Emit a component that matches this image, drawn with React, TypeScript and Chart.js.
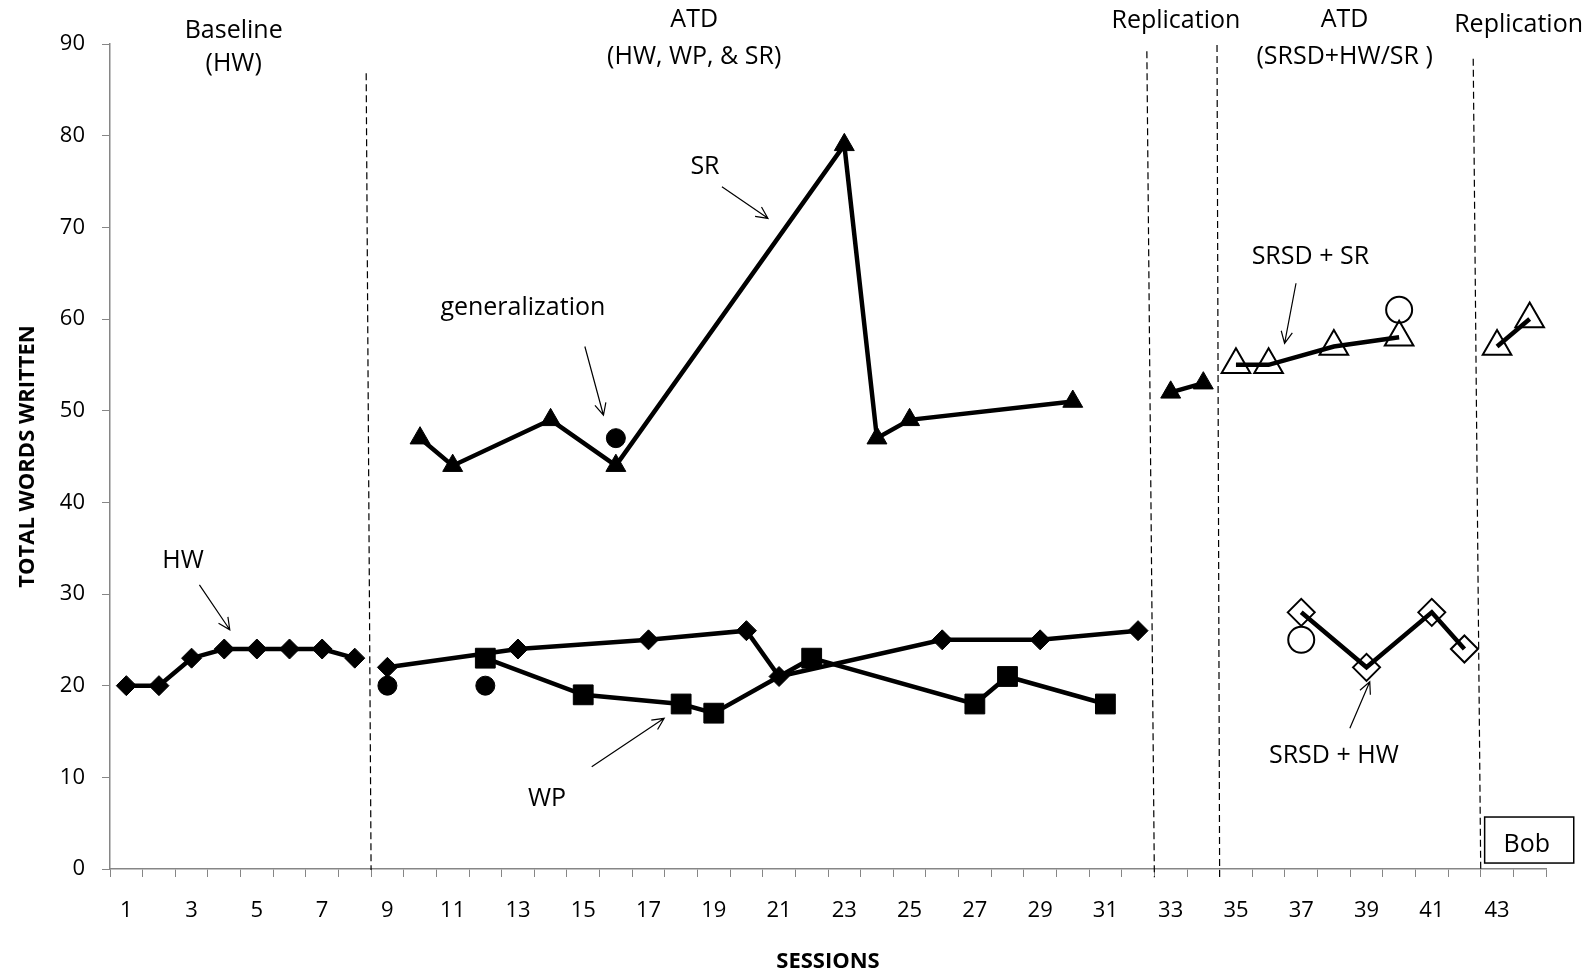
import React, { useEffect, useRef } from "react";
import { Chart, registerables } from "chart.js";

Chart.register(...registerables);

// ---------- data ----------
const sessionLabels = [
  "1", "2", "3", "4", "5", "6", "7", "8", "9", "10", "11", "12", "13", "14", "15",
  "16", "17", "18", "19", "20", "21", "22", "23", "24", "25", "26", "27", "28", "29", "30",
  "31", "32", "33", "34", "35", "36", "37", "38", "39", "40", "41", "42", "43", "44",
];
const yTicks = [0, 10, 20, 30, 40, 50, 60, 70, 80, 90];

// [session, total words written]
const hwBaseline = [[1, 20], [2, 20], [3, 23], [4, 24], [5, 24], [6, 24], [7, 24], [8, 23]];
const hwAtd = [[9, 22], [13, 24], [17, 25], [20, 26], [21, 21], [26, 25], [29, 25], [32, 26]];
const wpAtd = [[12, 23], [15, 19], [18, 18], [19, 17], [22, 23], [27, 18], [28, 21], [31, 18]];
const srAtd = [[10, 47], [11, 44], [14, 49], [16, 44], [23, 79], [24, 47], [25, 49], [30, 51]];
const srReplication = [[33, 52], [34, 53]];
const srsdSr = [[35, 55], [36, 55], [38, 57], [40, 58]];
const srsdHw = [[37, 28], [39, 22], [41, 28], [42, 24]];
const srsdReplication = [[43, 57], [44, 60]];
const generalizationFilled = [[9, 20], [12, 20], [16, 47]];
const generalizationOpen = [[37, 25], [40, 61]];

// annotations, in (session, value) units
const phaseTexts = [
  { text: "Baseline", s: 4.29, v: 91.4 },
  { text: "(HW)", s: 4.29, v: 87.8 },
  { text: "ATD", s: 18.4, v: 92.6 },
  { text: "(HW, WP, & SR)", s: 18.4, v: 88.6 },
  { text: "Replication", s: 33.16, v: 92.5 },
  { text: "ATD", s: 38.33, v: 92.6 },
  { text: "(SRSD+HW/SR )", s: 38.33, v: 88.6 },
  { text: "Replication", s: 43.66, v: 92.1 },
  { text: "HW", s: 2.74, v: 33.6 },
  { text: "SR", s: 18.73, v: 76.6 },
  { text: "generalization", s: 13.15, v: 61.2 },
  { text: "WP", s: 13.89, v: 7.6 },
  { text: "SRSD + SR", s: 37.28, v: 66.8 },
  { text: "SRSD + HW", s: 38.0, v: 12.36 },
  { text: "Bob", s: 43.91, v: 2.6 },
];
const arrows = [
  { from: [3.24, 31.0], to: [4.17, 26.1] },
  { from: [19.25, 74.43], to: [20.66, 70.98] },
  { from: [15.05, 57.0], to: [15.62, 49.5] },
  { from: [15.26, 11.16], to: [17.48, 16.44] },
  { from: [36.84, 63.9], to: [36.49, 57.35] },
  { from: [38.49, 15.35], to: [39.1, 20.43] },
];
const phaseLines = [
  { top: [8.35, 86.8], bottom: [8.5, -0.1] },
  { top: [32.27, 89.2], bottom: [32.5, -0.9] },
  { top: [34.42, 89.9], bottom: [34.5, -1.0] },
  { top: [42.27, 88.4], bottom: [42.5, -0.2] },
];
const bobBox = { s1: 42.62, s2: 45.35, v1: 0.65, v2: 5.67 };

const FONT = "'Open Sans', sans-serif";

function toSeries(pairs: number[][]) {
  const arr: (number | null)[] = sessionLabels.map(() => null);
  pairs.forEach(([s, v]) => {
    arr[s - 1] = v;
  });
  return arr;
}

const annotationPlugin = {
  id: "annotations",
  afterDatasetsDraw(chart: any) {
    const { ctx, scales } = chart;
    const x = scales.x;
    const y = scales.y;
    const px = (s: number) => x.getPixelForValue(s - 1);
    const py = (v: number) => y.getPixelForValue(v);
    ctx.save();

    // phase change lines
    ctx.strokeStyle = "#000";
    ctx.lineWidth = 1.2;
    ctx.setLineDash([7, 4]);
    phaseLines.forEach((l) => {
      ctx.beginPath();
      ctx.moveTo(px(l.top[0]), py(l.top[1]));
      ctx.lineTo(px(l.bottom[0]), py(l.bottom[1]));
      ctx.stroke();
    });
    ctx.setLineDash([]);

    // arrows
    ctx.lineWidth = 1.2;
    arrows.forEach((a) => {
      const x1 = px(a.from[0]);
      const y1 = py(a.from[1]);
      const x2 = px(a.to[0]);
      const y2 = py(a.to[1]);
      const ang = Math.atan2(y2 - y1, x2 - x1);
      const head = 13;
      const spread = 0.45;
      ctx.beginPath();
      ctx.moveTo(x1, y1);
      ctx.lineTo(x2, y2);
      ctx.moveTo(x2 - head * Math.cos(ang - spread), y2 - head * Math.sin(ang - spread));
      ctx.lineTo(x2, y2);
      ctx.lineTo(x2 - head * Math.cos(ang + spread), y2 - head * Math.sin(ang + spread));
      ctx.stroke();
    });

    // Bob box
    ctx.lineWidth = 1.5;
    ctx.fillStyle = "#fff";
    const bx = px(bobBox.s1);
    const by = py(bobBox.v2);
    const bw = px(bobBox.s2) - bx;
    const bh = py(bobBox.v1) - by;
    ctx.fillRect(bx, by, bw, bh);
    ctx.strokeRect(bx, by, bw, bh);

    // texts
    ctx.fillStyle = "#000";
    ctx.font = `25px ${FONT}`;
    ctx.textAlign = "center";
    ctx.textBaseline = "middle";
    phaseTexts.forEach((t) => {
      ctx.fillText(t.text, px(t.s), py(t.v));
    });
    ctx.restore();
  },
};

const filledLine = (data: (number | null)[], pointStyle: string, radius: number) => ({
  data,
  borderColor: "#000",
  borderWidth: 4.5,
  pointStyle,
  pointRadius: radius,
  pointHoverRadius: radius,
  pointBackgroundColor: "#000",
  pointBorderColor: "#000",
  pointBorderWidth: 1,
  spanGaps: true,
  showLine: true,
});

const openLine = (data: (number | null)[], pointStyle: string, radius: number) => ({
  data,
  borderColor: "#000",
  borderWidth: 4.5,
  pointStyle,
  pointRadius: radius,
  pointHoverRadius: radius,
  pointBackgroundColor: "rgba(0,0,0,0)",
  pointBorderColor: "#000",
  pointBorderWidth: 2,
  spanGaps: true,
  showLine: true,
});

export default function App() {
  const canvasRef = useRef<HTMLCanvasElement | null>(null);

  useEffect(() => {
    if (!canvasRef.current) return;
    const chart = new Chart(canvasRef.current, {
      type: "line",
      data: {
        labels: sessionLabels,
        datasets: [
          filledLine(toSeries(hwBaseline), "rectRot", 10),
          filledLine(toSeries(hwAtd), "rectRot", 10),
          filledLine(toSeries(wpAtd), "rect", 14),
          filledLine(toSeries(srAtd), "triangle", 11.5),
          filledLine(toSeries(srReplication), "triangle", 11.5),
          openLine(toSeries(srsdSr), "triangle", 16.5),
          openLine(toSeries(srsdHw), "rectRot", 13.5),
          openLine(toSeries(srsdReplication), "triangle", 16.5),
          { ...filledLine(toSeries(generalizationFilled), "circle", 9.5), showLine: false },
          { ...openLine(toSeries(generalizationOpen), "circle", 13), showLine: false },
        ] as any,
      },
      options: {
        responsive: false,
        animation: false,
        devicePixelRatio: 1,
        layout: { padding: { top: 44, right: 49, bottom: 0, left: 0 } },
        plugins: {
          legend: { display: false },
          tooltip: { enabled: false },
        },
        scales: {
          x: {
            type: "category",
            offset: true,
            grid: {
              offset: true,
              drawOnChartArea: false,
              drawTicks: true,
              tickLength: 8,
              color: "#868686",
              lineWidth: 1,
            },
            border: { display: true, color: "#868686", width: 1.5 },
            ticks: {
              autoSkip: false,
              maxRotation: 0,
              padding: 21,
              color: "#000",
              font: { family: FONT, size: 22 },
              callback: (_v: any, i: number) => (i % 2 === 0 ? sessionLabels[i] : ""),
            },
            title: {
              display: true,
              text: "SESSIONS",
              color: "#000",
              font: { family: FONT, size: 22, weight: "bold" },
              padding: { top: 0, bottom: 2.5 },
            },
            afterFit: (scale: any) => {
              scale.height = 108;
            },
          },
          y: {
            min: 0,
            max: 90,
            afterBuildTicks: (scale: any) => {
              scale.ticks = yTicks.map((v) => ({ value: v }));
            },
            grid: {
              drawOnChartArea: false,
              drawTicks: true,
              tickLength: 8,
              color: "#868686",
              lineWidth: 1,
            },
            border: { display: true, color: "#868686", width: 1.5 },
            ticks: {
              padding: 17,
              color: "#000",
              font: { family: FONT, size: 22 },
            },
            title: {
              display: true,
              text: "TOTAL WORDS WRITTEN",
              color: "#000",
              font: { family: FONT, size: 22, weight: "bold" },
              padding: { top: 14.8, bottom: 0 },
            },
            afterFit: (scale: any) => {
              scale.width = 110;
            },
          },
        },
      } as any,
      plugins: [annotationPlugin],
    });
    return () => chart.destroy();
  }, []);

  return (
    <div style={{ position: "fixed", left: 0, top: 0, width: 1595, height: 977, background: "#fff" }}>
      <canvas ref={canvasRef} width={1595} height={977} style={{ display: "block" }} />
    </div>
  );
}
